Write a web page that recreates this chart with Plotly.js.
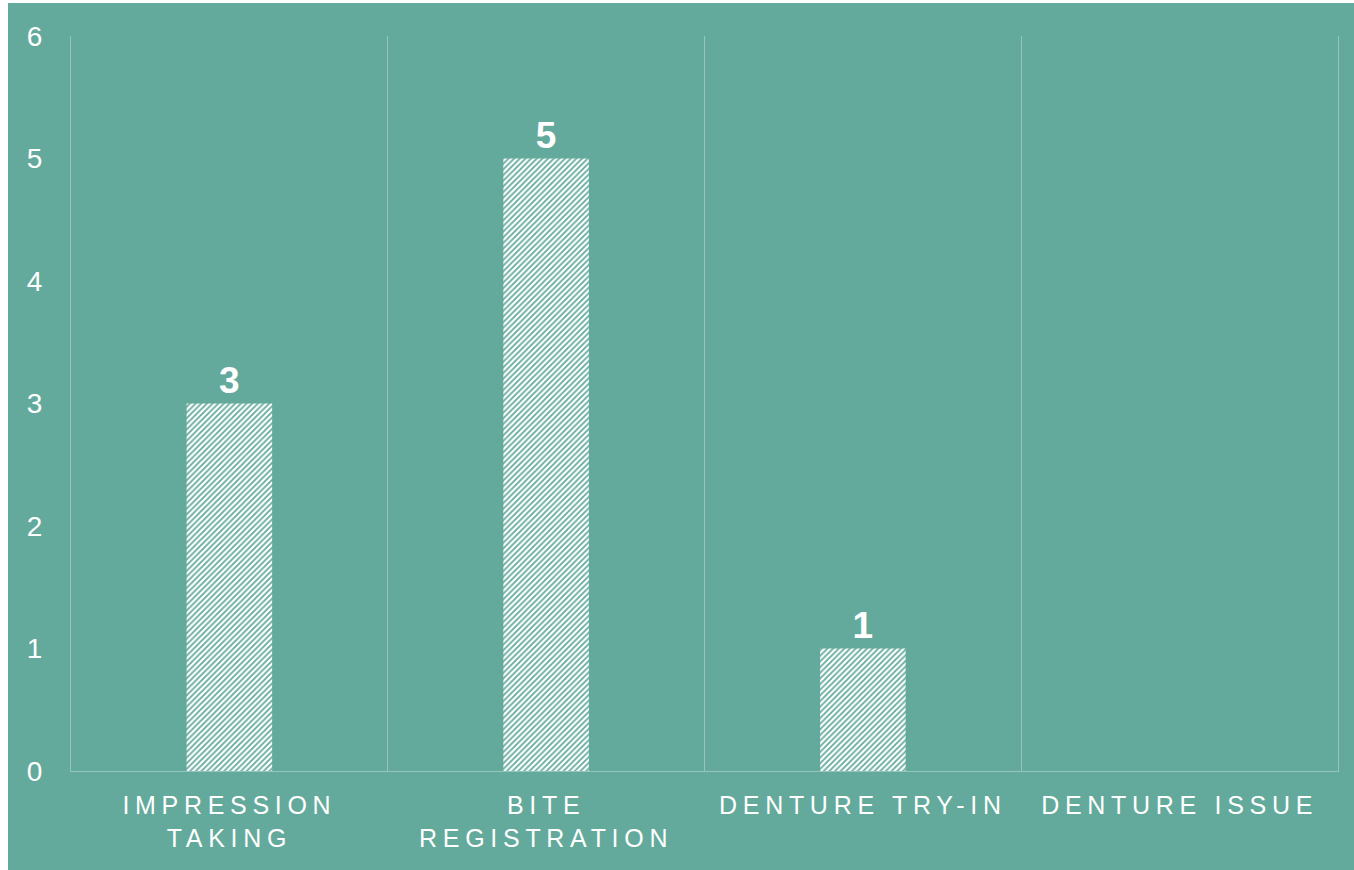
<!DOCTYPE html>
<html>
<head>
<meta charset="utf-8">
<script src="https://cdn.plot.ly/plotly-3.0.1.min.js"></script>
<style>
  html, body { margin: 0; padding: 0; background: #ffffff; }
  #chart { position: absolute; left: 8px; top: 3px; width: 1346px; height: 867px; }
  #chart .xtick text { letter-spacing: 5.7px; }
</style>
</head>
<body>
<div id="chart"></div>
<script>
const categories = ["IMPRESSION<br>TAKING", "BITE<br>REGISTRATION", "DENTURE TRY-IN", "DENTURE ISSUE"];
const values = [3, 5, 1, 0];
const yTickValues = [0, 1, 2, 3, 4, 5, 6];

const teal = "#63AA9C";
const gridCol = "rgba(255,255,255,0.32)";
const fontFam = "'Liberation Sans', Arial, sans-serif";

const trace = {
  type: "bar",
  x: categories,
  y: values,
  text: values.map(v => v ? String(v) : ""),
  textposition: "outside",
  textfont: { family: fontFam, size: 37, color: "#ffffff", weight: "bold" },
  constraintext: "none",
  cliponaxis: false,
  hoverinfo: "skip",
  marker: {
    color: "#ffffff",
    line: { width: 0 },
    pattern: { shape: "/", fgcolor: teal, bgcolor: "#ffffff", size: 4, solidity: 0.45 }
  }
};

const layout = {
  paper_bgcolor: teal,
  plot_bgcolor: teal,
  margin: { l: 63, r: 16, t: 33, b: 99 },
  bargap: 0.73,
  showlegend: false,
  font: { family: fontFam, color: "#ffffff" },
  xaxis: {
    type: "category",
    range: [-0.5, 3.5],
    tickson: "boundaries",
    showgrid: true,
    gridcolor: gridCol,
    gridwidth: 1,
    showline: true,
    linecolor: gridCol,
    linewidth: 1,
    ticks: "",
    tickangle: 0,
    ticklabelstandoff: 12,
    tickfont: { family: fontFam, size: 25, color: "#ffffff" },
    fixedrange: true
  },
  yaxis: {
    range: [0, 6],
    tickvals: yTickValues,
    ticktext: yTickValues.map(String),
    showgrid: false,
    zeroline: false,
    showline: true,
    mirror: true,
    linecolor: gridCol,
    linewidth: 1,
    ticks: "",
    ticklabelstandoff: 22,
    tickfont: { family: fontFam, size: 28, color: "#ffffff" },
    fixedrange: true
  }
};

Plotly.newPlot("chart", [trace], layout, { displayModeBar: false, responsive: false });
</script>
</body>
</html>
